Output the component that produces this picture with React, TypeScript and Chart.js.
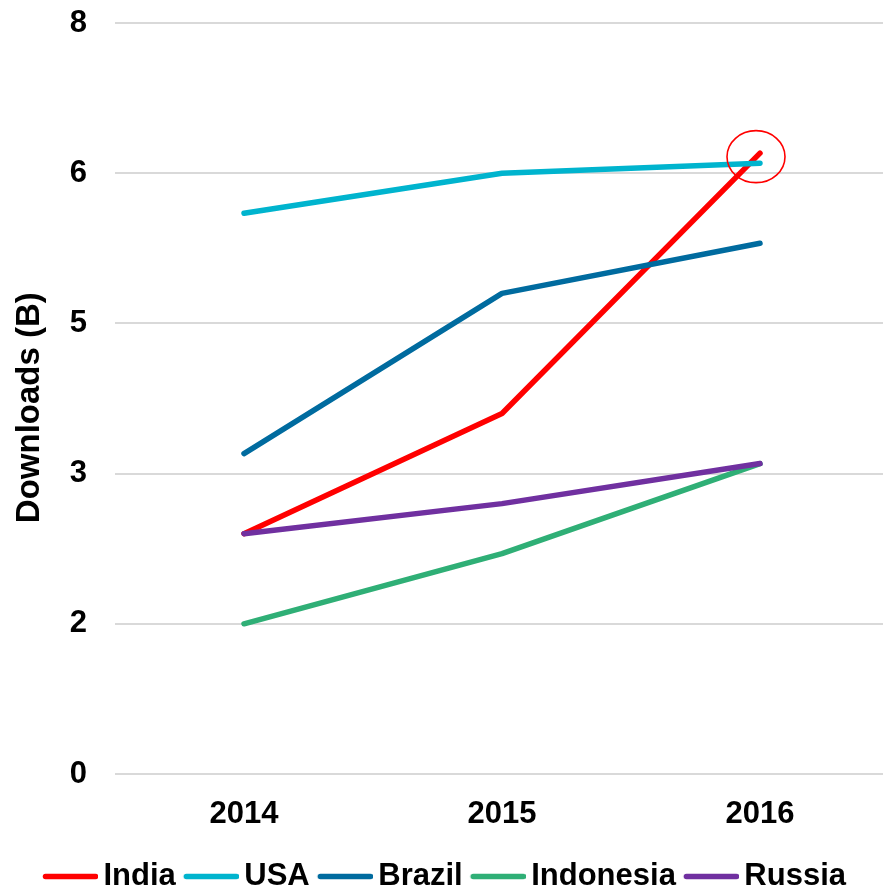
import React, { useEffect, useRef } from "react";
import { Chart, registerables } from "chart.js";

Chart.register(...registerables);

const years = ["2014", "2015", "2016"];
const india = [2.4, 3.6, 6.2];
const usa = [5.6, 6.0, 6.1];
const brazil = [3.2, 4.8, 5.3];
const indonesia = [1.5, 2.2, 3.1];
const russia = [2.4, 2.7, 3.1];

const seriesNames = ["India", "USA", "Brazil", "Indonesia", "Russia"];
const seriesValues = [india, usa, brazil, indonesia, russia];
const seriesColors = ["#FF0000", "#00B4CE", "#006B9F", "#2FAF76", "#7030A0"];

const FONT = "'Liberation Sans', Arial, sans-serif";

function legendLine(color: string): HTMLCanvasElement {
  const c = document.createElement("canvas");
  c.width = 65;
  c.height = 7;
  const ctx = c.getContext("2d")!;
  ctx.strokeStyle = color;
  ctx.lineWidth = 5.5;
  ctx.lineCap = "round";
  ctx.beginPath();
  ctx.moveTo(12.5, 3.5);
  ctx.lineTo(62.5, 3.5);
  ctx.stroke();
  return c;
}

const circlePlugin = {
  id: "highlightCircle",
  afterDatasetsDraw(chart: any) {
    const meta = chart.getDatasetMeta(0);
    const pt = meta.data[meta.data.length - 1];
    if (!pt) return;
    const ctx = chart.ctx;
    ctx.save();
    ctx.strokeStyle = "#FF0000";
    ctx.lineWidth = 1.6;
    ctx.beginPath();
    ctx.ellipse(pt.x - 4, pt.y + 3.5, 29, 26, 0, 0, Math.PI * 2);
    ctx.stroke();
    ctx.restore();
  },
};

export default function App() {
  const ref = useRef<HTMLCanvasElement>(null);

  useEffect(() => {
    if (!ref.current) return;
    const datasets = seriesNames.map((name, i) => ({
      label: name,
      data: seriesValues[i],
      borderColor: seriesColors[i],
      backgroundColor: seriesColors[i],
      borderWidth: 5.5,
      borderCapStyle: "round" as const,
      borderJoinStyle: "round" as const,
      pointRadius: 0,
      pointHoverRadius: 0,
      pointStyle: legendLine(seriesColors[i]),
      tension: 0,
      order: seriesNames.length - i,
    }));

    const chart = new Chart(ref.current, {
      type: "line",
      data: { labels: years, datasets },
      plugins: [circlePlugin],
      options: {
        animation: false,
        responsive: false,
        layout: { padding: { top: 23, left: 0, right: 0, bottom: 0 } },
        plugins: {
          tooltip: { enabled: false },
          legend: {
            position: "bottom",
            labels: {
              usePointStyle: true,
              pointStyleWidth: 45,
              padding: 8,
              color: "#000",
              font: { family: FONT, size: 31, weight: "bold" },
              sort: (a: any, b: any) => a.datasetIndex - b.datasetIndex,
            },
          },
        },
        scales: {
          x: {
            type: "category",
            offset: true,
            grid: { display: false, drawTicks: false },
            border: { display: false },
            ticks: {
              color: "#000",
              padding: 22,
              font: { family: FONT, size: 31, weight: "bold" },
            },
            afterFit: (scale: any) => {
              scale.height = 79;
            },
          },
          y: {
            min: 0,
            max: 7.5,
            grid: { color: "#D9D9D9", lineWidth: 2, drawTicks: false },
            border: { display: false },
            ticks: {
              stepSize: 1.5,
              color: "#000",
              padding: 28,
              font: { family: FONT, size: 31, weight: "bold" },
              callback: (v: any) => String(Math.round(Number(v))),
            },
            title: {
              display: true,
              text: "Downloads (B)  ",
              color: "#000",
              padding: { top: 10, bottom: 4 },
              font: { family: FONT, size: 33, weight: "bold" },
            },
            afterFit: (scale: any) => {
              scale.width = 115;
              scale.paddingTop = 0;
              scale.paddingBottom = 0;
            },
          },
        },
      },
    });
    return () => chart.destroy();
  }, []);

  return (
    <div
      style={{
        position: "fixed",
        left: 0,
        top: 0,
        width: 883,
        height: 886,
        overflow: "hidden",
        background: "#fff",
      }}
    >
      <canvas ref={ref} width={889} height={902} style={{ display: "block" }} />
    </div>
  );
}
